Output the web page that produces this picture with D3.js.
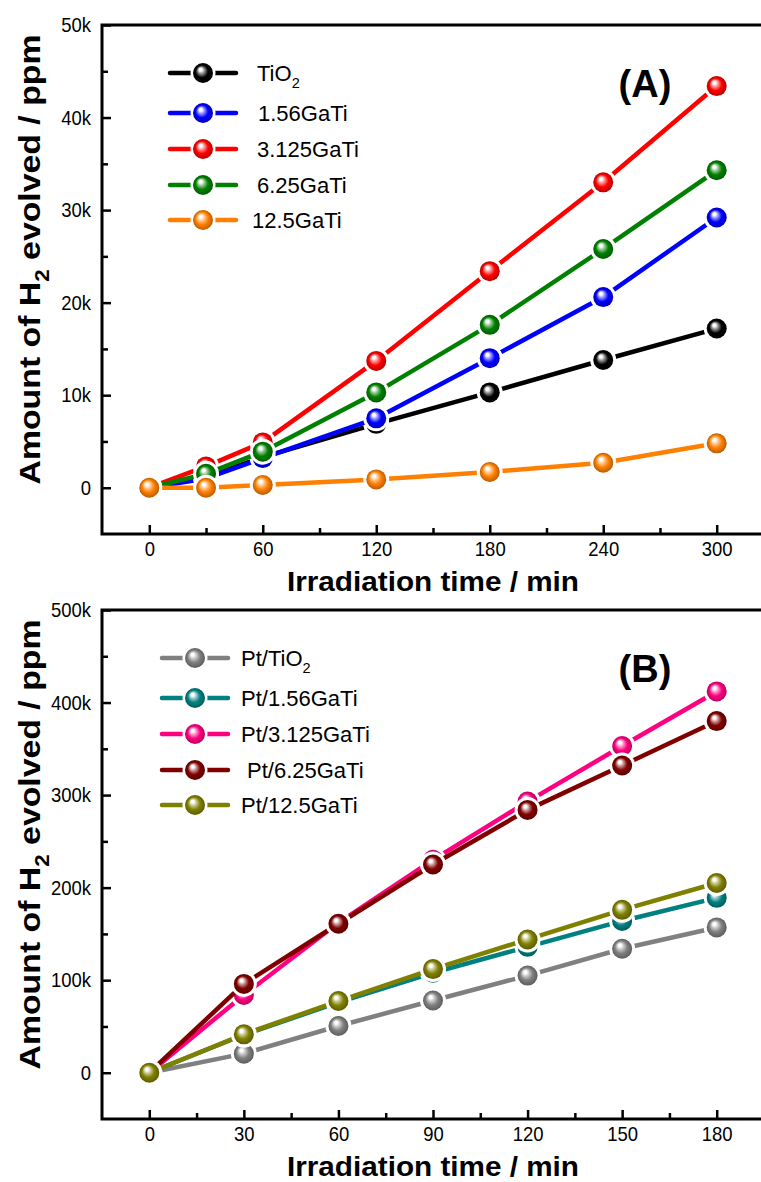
<!DOCTYPE html>
<html>
<head>
<meta charset="utf-8">
<script src="https://cdn.jsdelivr.net/npm/d3@7"></script>
<style>
  body { margin: 0; background: #fff; }
  svg { display: block; }
  text { font-family: Arial, "Liberation Sans", sans-serif; fill: #000; }
</style>
</head>
<body>
<svg id="chart" width="761" height="1182"></svg>
<script>
// ---------- Panel (A): bare catalysts ----------
const timesA = [0, 30, 60, 120, 180, 240, 300];
const labelsA = ["TiO2", "1.56GaTi", "3.125GaTi", "6.25GaTi", "12.5GaTi"];
const colorsA = ["#000000", "#0000ff", "#ff0000", "#008000", "#ff8000"];
const tio2      = [0, 1200, 3300, 6900, 10300, 13800, 17200];
const gaTi156   = [0, 1000, 3200, 7500, 14000, 20600, 29200];
const gaTi3125  = [0, 2300, 4900, 13700, 23400, 33000, 43400];
const gaTi625   = [0, 1500, 3900, 10300, 17600, 25800, 34300];
const gaTi125   = [0, 0, 300, 900, 1700, 2700, 4800];
const valuesA = [tio2, gaTi156, gaTi3125, gaTi625, gaTi125];
const xTicksA = [0, 60, 120, 180, 240, 300];
const xMinorA = [30, 90, 150, 210, 270];
const yTicksA = [0, 10000, 20000, 30000, 40000, 50000];
const yTickLabelsA = ["0", "10k", "20k", "30k", "40k", "50k"];
const yMinorA = [5000, 15000, 25000, 35000, 45000];

// ---------- Panel (B): Pt-loaded catalysts ----------
const timesB = [0, 30, 60, 90, 120, 150, 180];
const labelsB = ["Pt/TiO2", "Pt/1.56GaTi", "Pt/3.125GaTi", "Pt/6.25GaTi", "Pt/12.5GaTi"];
const colorsB = ["#808080", "#008080", "#ff0080", "#800000", "#808000"];
const ptTio2     = [0, 20600, 50500, 78000, 105000, 134000, 157000];
const ptGaTi156  = [0, 41000, 76000, 108000, 136000, 164000, 189000];
const ptGaTi3125 = [0, 84000, 162000, 230000, 293000, 353000, 412000];
const ptGaTi625  = [0, 96000, 161000, 225000, 284000, 332000, 380000];
const ptGaTi125  = [0, 41500, 77500, 112000, 144000, 176000, 205000];
const valuesB = [ptTio2, ptGaTi156, ptGaTi3125, ptGaTi625, ptGaTi125];
const xTicksB = [0, 30, 60, 90, 120, 150, 180];
const xMinorB = [15, 45, 75, 105, 135, 165];
const yTicksB = [0, 100000, 200000, 300000, 400000, 500000];
const yTickLabelsB = ["0", "100k", "200k", "300k", "400k", "500k"];
const yMinorB = [50000, 150000, 250000, 350000, 450000];

const svg = d3.select("#chart");
const defs = svg.append("defs");

// Shaded-ball gradient for each series colour
function ballGradient(id, color) {
  const light = d3.interpolateRgb(color, "#ffffff")(0.6);
  const dark = d3.color(color).darker(0.9);
  const g = defs.append("radialGradient")
    .attr("id", id)
    .attr("cx", "50%").attr("cy", "50%").attr("r", "50%")
    .attr("fx", "36%").attr("fy", "30%");
  g.append("stop").attr("offset", "0%").attr("stop-color", "#ffffff");
  g.append("stop").attr("offset", "14%").attr("stop-color", "#ffffff").attr("stop-opacity", 0.95);
  g.append("stop").attr("offset", "32%").attr("stop-color", light);
  g.append("stop").attr("offset", "62%").attr("stop-color", color);
  g.append("stop").attr("offset", "100%").attr("stop-color", dark);
  return `url(#${id})`;
}

// Write a label, lowering the "2" of TiO2 / H2 as a subscript
function richText(sel, str, size) {
  const parts = str.split(/(?<=TiO|H)2/);
  parts.forEach((p, i) => {
    sel.append("tspan").text(p).attr("dy", i > 0 ? -size * 0.3 : null);
    if (i < parts.length - 1) {
      sel.append("tspan").text("2").attr("font-size", size * 0.66).attr("dy", size * 0.3);
    }
  });
}

// Narrow the tick numerals a little
function narrow(sel, factor) {
  sel.each(function () {
    const w = this.getComputedTextLength();
    if (w > 0) d3.select(this).attr("textLength", w * factor).attr("lengthAdjust", "spacingAndGlyphs");
  });
}

const R = 10;       // ball radius
const HALO = 13;    // white gap around each ball

function panel(cfg) {
  const g = svg.append("g");
  const x = d3.scaleLinear().domain(cfg.xDomain).range([cfg.left, cfg.right]);
  const y = d3.scaleLinear().domain(cfg.yDomain).range([cfg.bottom, cfg.top]);

  // Axes with inward ticks
  const yAxis = d3.axisLeft(y).tickValues(cfg.yTicks)
    .tickFormat((d, i) => cfg.yTickLabels[i]).tickSizeInner(-9).tickSizeOuter(0).tickPadding(11);
  const yMinor = d3.axisLeft(y).tickValues(cfg.yMinor).tickFormat("").tickSizeInner(-6).tickSizeOuter(0);
  const xAxis = d3.axisBottom(x).tickValues(cfg.xTicks).tickSizeInner(-9).tickSizeOuter(0).tickPadding(7);
  const xMinor = d3.axisBottom(x).tickValues(cfg.xMinor).tickFormat("").tickSizeInner(-6).tickSizeOuter(0);

  [yAxis, yMinor].forEach(a => {
    g.append("g").attr("transform", `translate(${cfg.left},0)`).call(a);
  });
  [xAxis, xMinor].forEach(a => {
    g.append("g").attr("transform", `translate(0,${cfg.bottom})`).call(a);
  });
  g.selectAll(".domain").remove();
  g.selectAll(".tick line").attr("stroke", "#000").attr("stroke-width", 2.5);
  g.selectAll(".tick text").attr("font-size", 21).attr("fill", "#000")
    .attr("font-family", "Arial, 'Liberation Sans', sans-serif")
    .call(narrow, 0.88);

  // Frame (left, bottom, top; right side runs past the page edge)
  g.append("rect")
    .attr("x", cfg.left).attr("y", cfg.top)
    .attr("width", x(cfg.xDomain[1]) - cfg.left).attr("height", cfg.bottom - cfg.top)
    .attr("fill", "none").attr("stroke", "#000").attr("stroke-width", 3);

  // Series: line, white gaps, shaded balls
  const line = d3.line().x(d => x(d[0])).y(d => y(d[1]));
  cfg.values.forEach((vals, si) => {
    const pts = cfg.times.map((t, i) => [t, vals[i]]);
    const fill = ballGradient(`${cfg.id}-ball-${si}`, cfg.colors[si]);
    const sg = g.append("g");
    sg.append("path").datum(pts).attr("d", line)
      .attr("fill", "none").attr("stroke", cfg.colors[si]).attr("stroke-width", 4.5)
      .attr("stroke-linejoin", "round");
    sg.selectAll("circle.halo").data(pts).join("circle").attr("class", "halo")
      .attr("cx", d => x(d[0])).attr("cy", d => y(d[1])).attr("r", HALO).attr("fill", "#fff");
    sg.selectAll("circle.ball").data(pts).join("circle").attr("class", "ball")
      .attr("cx", d => x(d[0])).attr("cy", d => y(d[1])).attr("r", R).attr("fill", fill);
  });

  // Legend
  cfg.labels.forEach((lab, i) => {
    const ly = cfg.legendY + cfg.legendRows[i];
    const lg = g.append("g");
    lg.append("line").attr("x1", cfg.legendX).attr("x2", cfg.legendX + 66)
      .attr("y1", ly).attr("y2", ly)
      .attr("stroke", cfg.colors[i]).attr("stroke-width", 4.5).attr("stroke-linecap", "round");
    lg.append("circle").attr("cx", cfg.legendX + 33).attr("cy", ly).attr("r", HALO - 0.5).attr("fill", "#fff");
    lg.append("circle").attr("cx", cfg.legendX + 33).attr("cy", ly).attr("r", R)
      .attr("fill", `url(#${cfg.id}-ball-${i})`);
    const t = lg.append("text").attr("x", cfg.legendX + cfg.textOffset[i]).attr("y", ly + 8)
      .attr("font-size", 22);
    richText(t, lab, 22);
  });

  // Panel tag
  g.append("text").attr("x", cfg.tagX).attr("y", cfg.tagY)
    .attr("font-size", 38).attr("font-weight", "bold").attr("text-anchor", "middle")
    .text(cfg.tag);

  // Axis titles
  const yt = g.append("text")
    .attr("transform", `translate(${cfg.yTitleX},${(cfg.top + cfg.bottom) / 2 - 20}) rotate(-90)`)
    .attr("text-anchor", "middle").attr("font-size", 30).attr("font-weight", "bold")
    .attr("textLength", 450).attr("lengthAdjust", "spacingAndGlyphs");
  richText(yt, "Amount of H2 evolved / ppm", 30);

  g.append("text").attr("x", (cfg.left + x(cfg.xDomain[1])) / 2).attr("y", cfg.xTitleY)
    .attr("text-anchor", "middle").attr("font-size", 28).attr("font-weight", "bold")
    .attr("textLength", 292).attr("lengthAdjust", "spacingAndGlyphs")
    .text("Irradiation time / min");
}

panel({
  id: "a", top: 25, bottom: 534, left: 102, right: 764,
  xDomain: [-25, 325], yDomain: [-5000, 50000],
  xTicks: xTicksA, xMinor: xMinorA, yTicks: yTicksA, yTickLabels: yTickLabelsA, yMinor: yMinorA,
  times: timesA, values: valuesA, colors: colorsA, labels: labelsA,
  legendX: 170, legendY: 73, legendRows: [0, 40, 76, 112, 147], textOffset: [87, 88, 87, 87, 82],
  tag: "(A)", tagX: 645, tagY: 97, yTitleX: 40, xTitleY: 591
});

panel({
  id: "b", top: 610, bottom: 1119, left: 102, right: 764,
  xDomain: [-15, 195], yDomain: [-50000, 500000],
  xTicks: xTicksB, xMinor: xMinorB, yTicks: yTicksB, yTickLabels: yTickLabelsB, yMinor: yMinorB,
  times: timesB, values: valuesB, colors: colorsB, labels: labelsB,
  legendX: 162, legendY: 658, legendRows: [0, 40, 76, 112, 147], textOffset: [79, 79, 79, 85, 79],
  tag: "(B)", tagX: 645, tagY: 682, yTitleX: 40, xTitleY: 1176
});
</script>
</body>
</html>
